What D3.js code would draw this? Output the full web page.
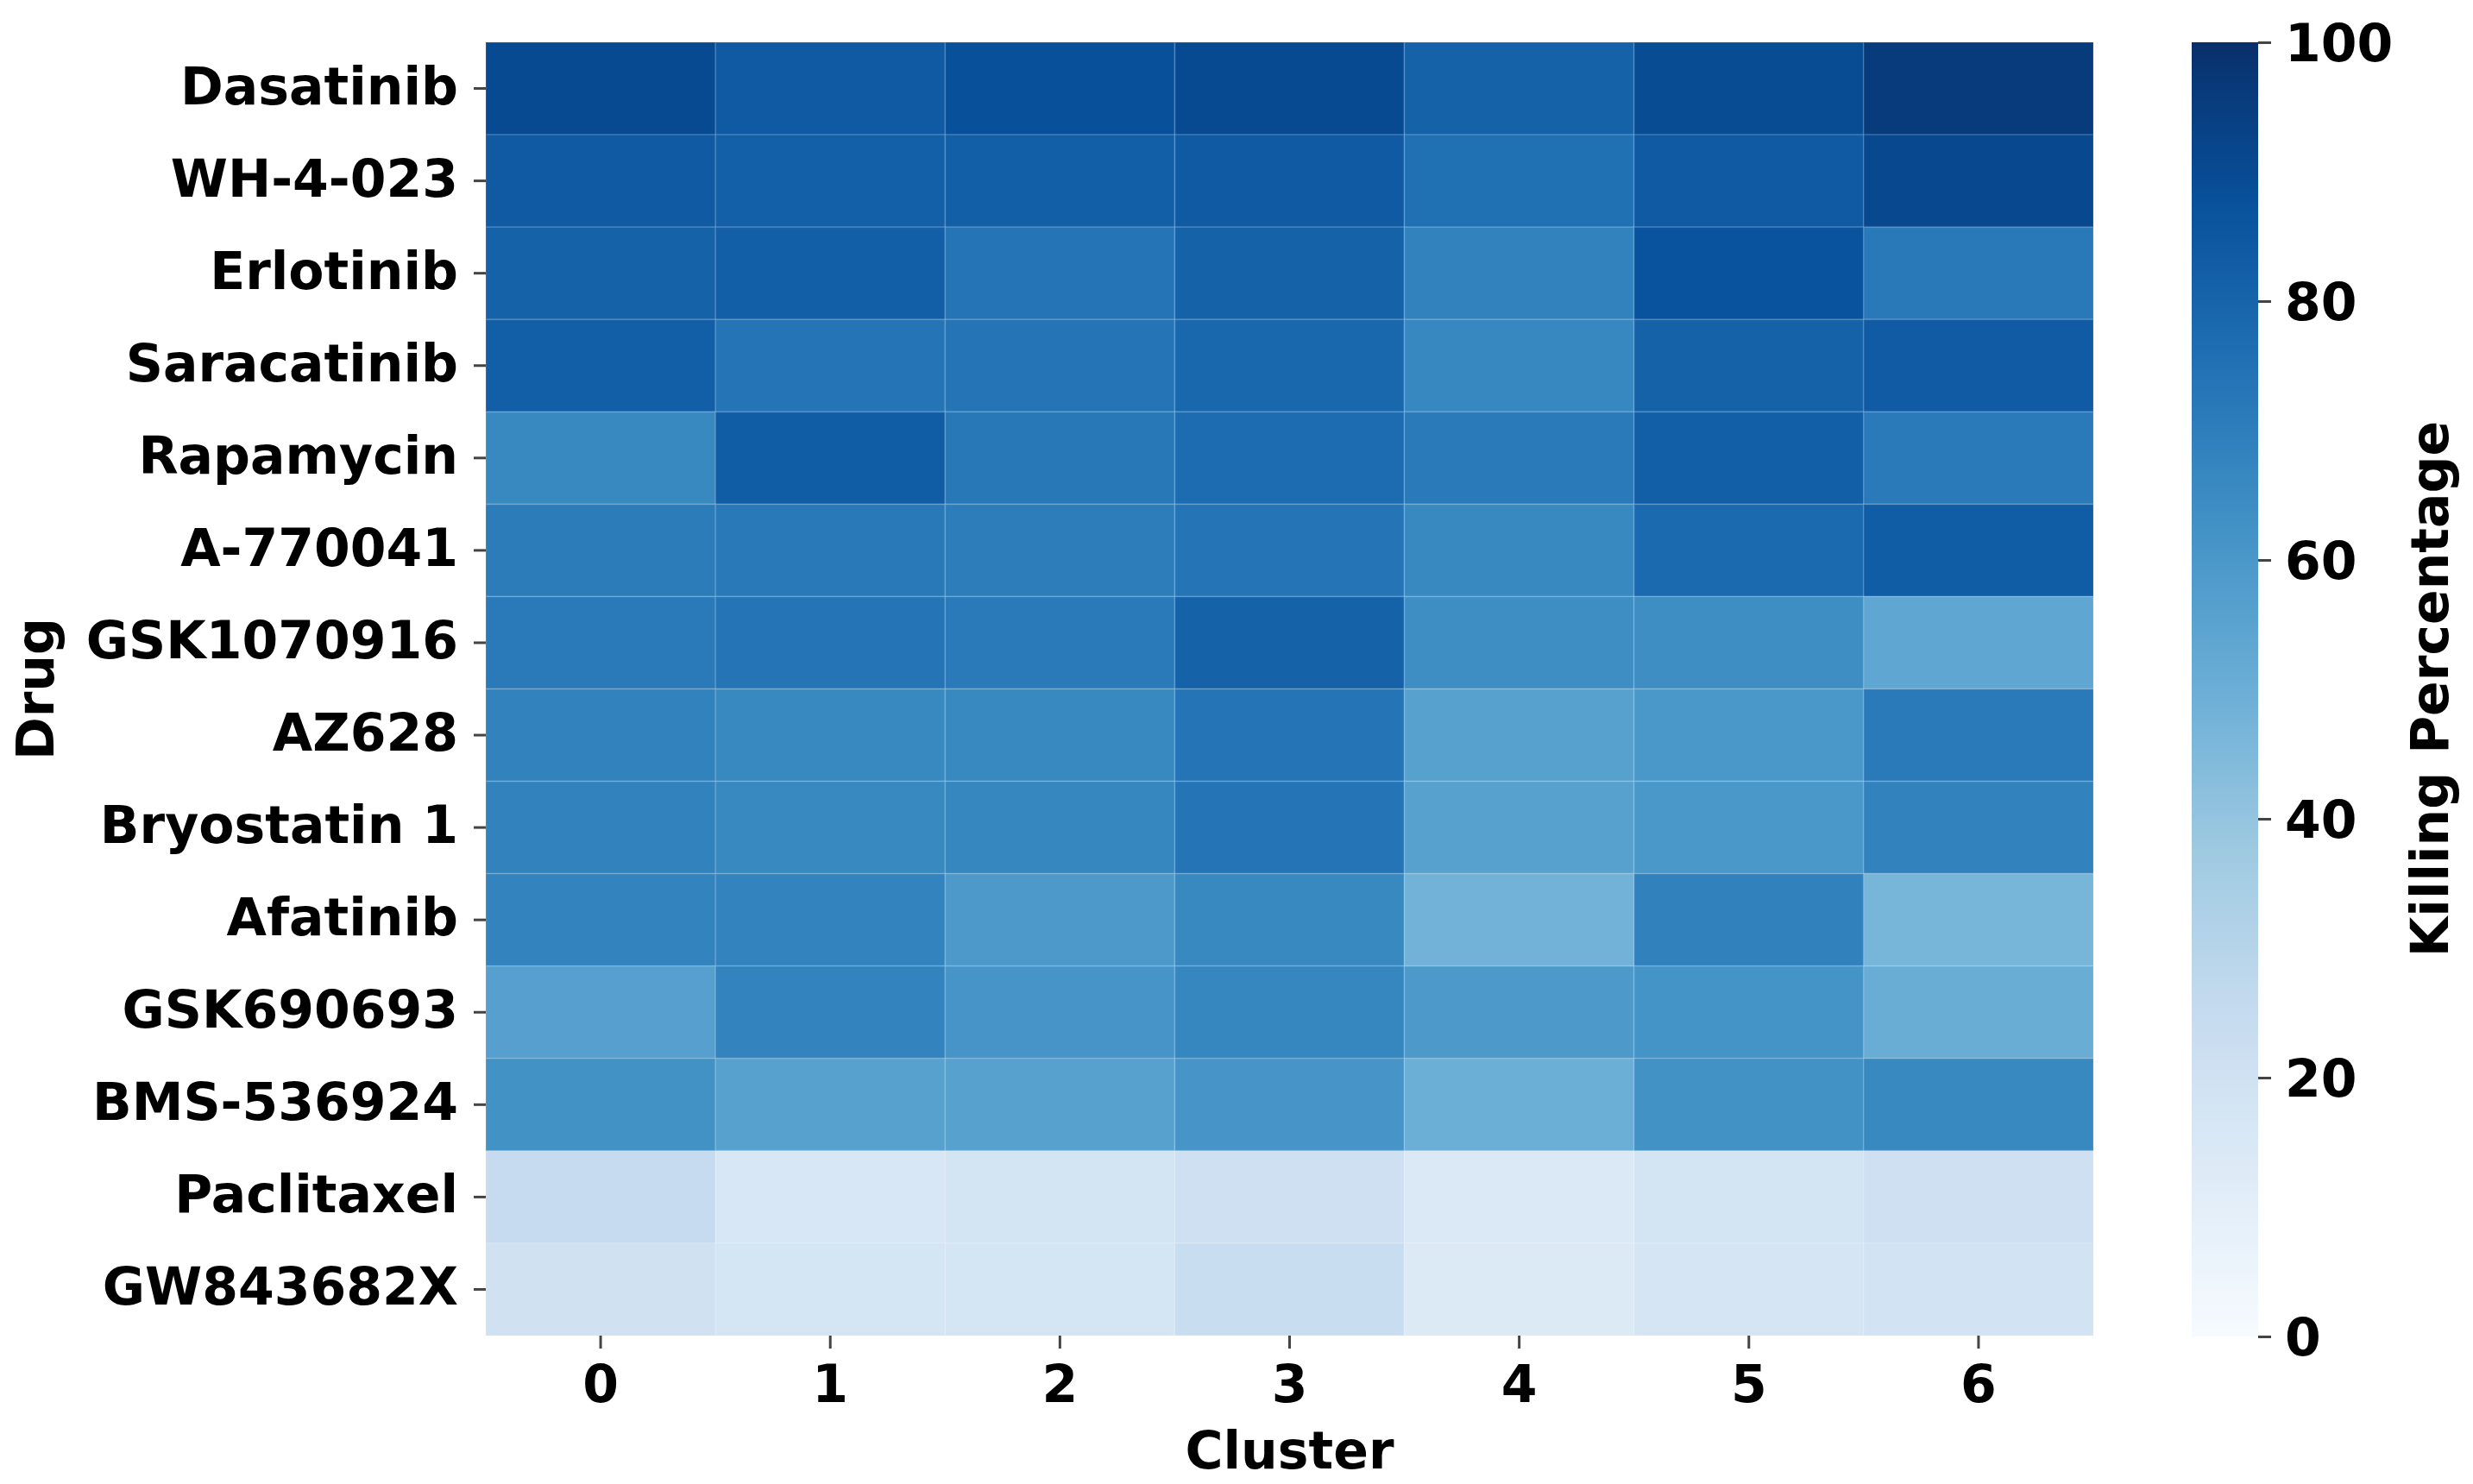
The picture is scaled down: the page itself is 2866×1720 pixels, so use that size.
<!DOCTYPE html>
<html>
<head>
<meta charset="utf-8">
<script src="https://cdn.jsdelivr.net/npm/d3@7"></script>
<style>
  html, body { margin: 0; padding: 0; background: #ffffff; }
  svg { display: block; }
  text { font-family: "DejaVu Sans", sans-serif; font-weight: bold; fill: #000; }
</style>
</head>
<body>
<svg id="chart" width="2866" height="1720"></svg>
<script>
// ---- data ----
const drugs = ["Dasatinib", "WH-4-023", "Erlotinib", "Saracatinib", "Rapamycin", "A-770041",
  "GSK1070916", "AZ628", "Bryostatin 1", "Afatinib", "GSK690693", "BMS-536924", "Paclitaxel", "GW843682X"];
const clusters = ["0", "1", "2", "3", "4", "5", "6"];
const dasatinib   = [90, 84, 88, 90, 81, 89.5, 96];
const wh4023      = [84, 81.5, 82, 84, 75.5, 84, 91];
const erlotinib   = [81, 82, 74, 81, 68.5, 87, 72];
const saracatinib = [82, 74, 74, 79, 66.5, 81, 83.5];
const rapamycin   = [66, 83, 72.5, 77, 71.5, 82, 71.5];
const a770041     = [71, 72, 70.5, 74, 66, 78, 83];
const gsk1070916  = [71.5, 74, 71.5, 81, 64, 64, 53.5];
const az628       = [68.5, 66, 66, 74, 56, 60, 71.5];
const bryostatin1 = [68.5, 66, 67, 74, 56, 60, 68.5];
const afatinib    = [68, 68, 59, 66, 48, 69, 47];
const gsk690693   = [56.5, 68, 61, 67, 59, 61.5, 50.5];
const bms536924   = [62.5, 56, 56, 61, 50, 62.5, 66];
const paclitaxel  = [25, 15.5, 18, 21, 14, 18, 21];
const gw843682x   = [20, 17.5, 17.5, 23.5, 13.5, 17, 19];
const values = [dasatinib, wh4023, erlotinib, saracatinib, rapamycin, a770041, gsk1070916,
  az628, bryostatin1, afatinib, gsk690693, bms536924, paclitaxel, gw843682x];
const colorbarTicks = [0, 20, 40, 60, 80, 100];
const xTitle = "Cluster";
const yTitle = "Drug";
const cbTitle = "Killing Percentage";

// matplotlib "Blues" colormap (linear segments)
const bluesStops = ["#f7fbff", "#deebf7", "#c6dbef", "#9ecae1", "#6baed6", "#4292c6", "#2171b5", "#08519c", "#08306b"];

(function () {
// ---- layout ----
const L = 563, R = 2426, T = 49, B = 1548;
const cbLeft = 2540, cbRight = 2617;

const svg = d3.select("#chart");

const x = d3.scaleBand().domain(clusters).range([L, R]).padding(0);
const y = d3.scaleBand().domain(drugs).range([T, B]).padding(0);
const color = d3.scaleLinear()
  .domain(bluesStops.map((d, i) => i * 100 / (bluesStops.length - 1)))
  .range(bluesStops)
  .interpolate(d3.interpolateRgb)
  .clamp(true);

// cells
const cells = [];
drugs.forEach((dr, i) => clusters.forEach((c, j) => cells.push({ drug: dr, cluster: c, v: values[i][j] })));
svg.append("g").selectAll("rect").data(cells).join("rect")
  .attr("x", d => x(d.cluster))
  .attr("y", d => y(d.drug))
  .attr("width", x.bandwidth())
  .attr("height", y.bandwidth())
  .attr("fill", d => color(d.v))
  .attr("stroke", "rgba(255,255,255,0.10)")
  .attr("stroke-width", 2);

// axes
const xAxis = svg.append("g")
  .attr("transform", `translate(0,${B})`)
  .call(d3.axisBottom(x).tickSize(15).tickPadding(17));
const yAxis = svg.append("g")
  .attr("transform", `translate(${L},0)`)
  .call(d3.axisLeft(y).tickSize(14).tickPadding(18));
[xAxis, yAxis].forEach(a => {
  a.select(".domain").remove();
  a.selectAll(".tick line").attr("stroke", "#444").attr("stroke-width", 3);
  a.selectAll(".tick text").style("font-size", "60px").style("font-family", "'DejaVu Sans', sans-serif")
    .style("font-weight", "bold").attr("fill", "#000");
});
xAxis.selectAll(".tick text").attr("dy", null).attr("y", 77);
yAxis.selectAll(".tick text").attr("dy", "0.3em");

// axis titles
svg.append("text").attr("x", (L + R) / 2).attr("y", 1702)
  .attr("text-anchor", "middle").style("font-size", "60px").text(xTitle);
svg.append("text").attr("transform", `translate(62,${(T + B) / 2}) rotate(-90)`)
  .attr("text-anchor", "middle").style("font-size", "60px").text(yTitle);

// colorbar
const cbScale = d3.scaleLinear().domain([0, 100]).range([B + 1, T]);
const defs = svg.append("defs");
const grad = defs.append("linearGradient").attr("id", "cbgrad")
  .attr("x1", 0).attr("y1", 1).attr("x2", 0).attr("y2", 0);
d3.range(0, 101, 2).forEach(v => {
  grad.append("stop").attr("offset", v / 100).attr("stop-color", color(v));
});
svg.append("rect")
  .attr("x", cbLeft).attr("y", cbScale(100))
  .attr("width", cbRight - cbLeft).attr("height", cbScale(0) - cbScale(100))
  .attr("fill", "url(#cbgrad)");
const cbAxis = svg.append("g")
  .attr("transform", `translate(${cbRight},0)`)
  .call(d3.axisRight(cbScale).tickValues(colorbarTicks).tickSize(15).tickPadding(16));
cbAxis.select(".domain").remove();
cbAxis.selectAll(".tick line").attr("stroke", "#444").attr("stroke-width", 3);
cbAxis.selectAll(".tick text").style("font-size", "60px").style("font-family", "'DejaVu Sans', sans-serif")
  .style("font-weight", "bold").attr("fill", "#000").attr("dy", "0.36em");

svg.append("text").attr("transform", `translate(2837,${(T + B) / 2}) rotate(-90)`)
  .attr("text-anchor", "middle").style("font-size", "60px").text(cbTitle);
})();
</script>
</body>
</html>
